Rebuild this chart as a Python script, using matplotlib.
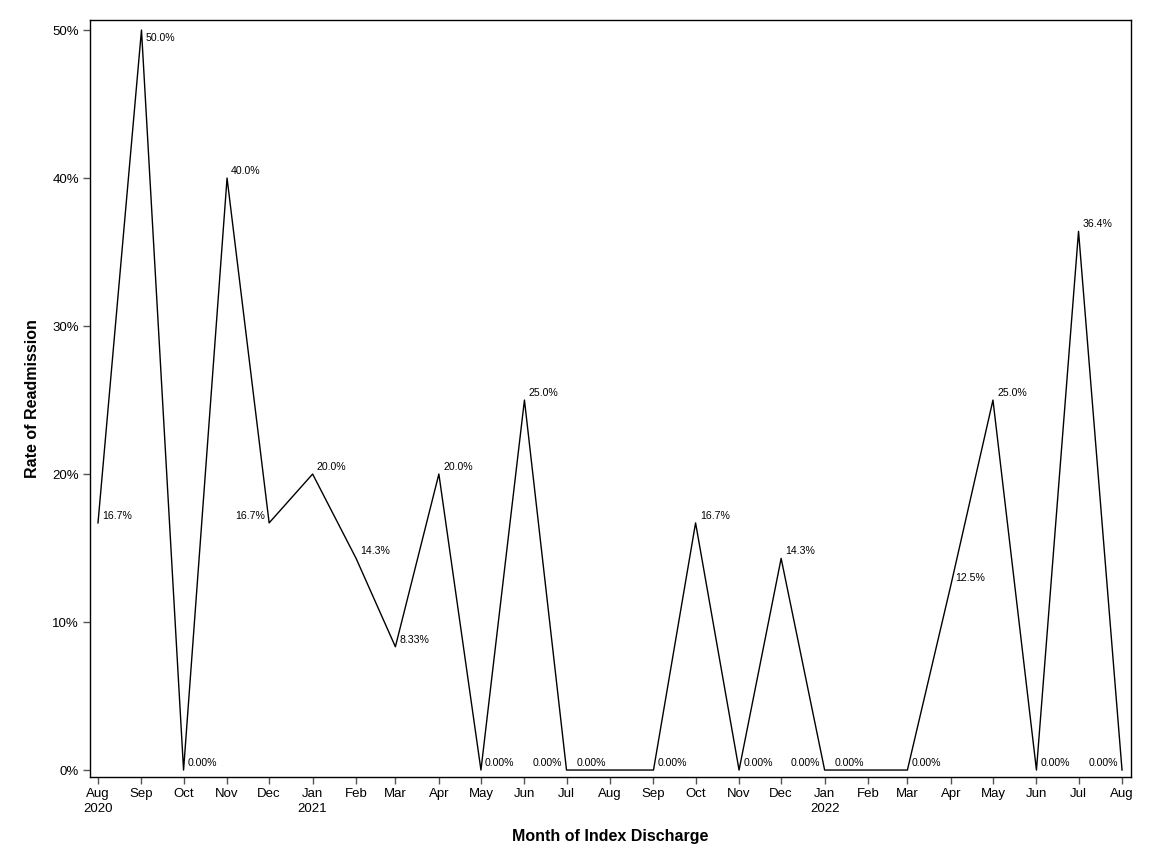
import matplotlib
matplotlib.use("Agg")
import matplotlib.pyplot as plt
import numpy as np
import datetime as dt

months = ["2020-08", "2020-09", "2020-10", "2020-11", "2020-12",
          "2021-01", "2021-02", "2021-03", "2021-04", "2021-05", "2021-06",
          "2021-07", "2021-08", "2021-09", "2021-10", "2021-11", "2021-12",
          "2022-01", "2022-02", "2022-03", "2022-04", "2022-05", "2022-06",
          "2022-07", "2022-08"]
rates = [16.7, 50.0, 0.0, 40.0, 16.7,
         20.0, 14.3, 8.33, 20.0, 0.0, 25.0,
         0.0, 0.0, 0.0, 16.7, 0.0, 14.3,
         0.0, 0.0, 0.0, 12.5, 25.0, 0.0,
         36.4, 0.0]
# label side: 'r' = upper right, 'l' = upper left, 'b' = lower right
label_side = ['r', 'b', 'r', 'r', 'l',
              'r', 'r', 'r', 'r', 'r', 'r',
              'l', 'l', 'r', 'r', 'r', 'r',
              'l', 'l', 'r', 'r', 'r', 'r',
              'r', 'l']
yticks = [0, 10, 20, 30, 40, 50]

plt.rcParams['font.family'] = ['Liberation Sans', 'DejaVu Sans']

dates = [dt.datetime.strptime(m, "%Y-%m") for m in months]

fig = plt.figure(figsize=(11.52, 8.64), dpi=100)
ax = fig.add_axes([90/1152, 1 - 777/864, (1131-90)/1152, (777-20)/864])

ax.plot(dates, rates, color='black', lw=1.0)

def fmt(v):
    if v == 0:
        return "0.00%"
    d = max(0, 2 - int(np.floor(np.log10(v))))
    return f"{v:.{d}f}%"

for d, v, s in zip(dates, rates, label_side):
    if s == 'r':
        off, ha, va = (3, 1.5), 'left', 'bottom'
    elif s == 'l':
        off, ha, va = (-3, 1.5), 'right', 'bottom'
    else:
        off, ha, va = (3, -2), 'left', 'top'
    ax.annotate(fmt(v), (d, v), xytext=off, textcoords='offset points',
                ha=ha, va=va, fontsize=7.6, color='black')

ax.set_xlim(dates[0] - dt.timedelta(days=5.7), dates[-1] + dt.timedelta(days=6.4))
ax.set_ylim(-0.47, 50.68)

ax.set_xticks(dates)
xl = []
for d in dates:
    lab = d.strftime("%b")
    if d.month == 1 or d == dates[0]:
        lab += "\n" + str(d.year)
    xl.append(lab)
ax.set_xticklabels(xl, fontsize=9.5, linespacing=1.35)
ax.set_yticks(yticks)
ax.set_yticklabels([f"{t}%" for t in yticks], fontsize=9.5)

ax.tick_params(axis='both', direction='out', length=5, width=1, color='#555555', pad=3)
for sp in ax.spines.values():
    sp.set_color('black')
    sp.set_linewidth(1.0)

ax.set_xlabel("Month of Index Discharge", fontsize=11.5, fontweight='bold', labelpad=10)
ax.set_ylabel("Rate of Readmission", fontsize=11.5, fontweight='bold', labelpad=9)

fig.savefig("out.png", dpi=100)
